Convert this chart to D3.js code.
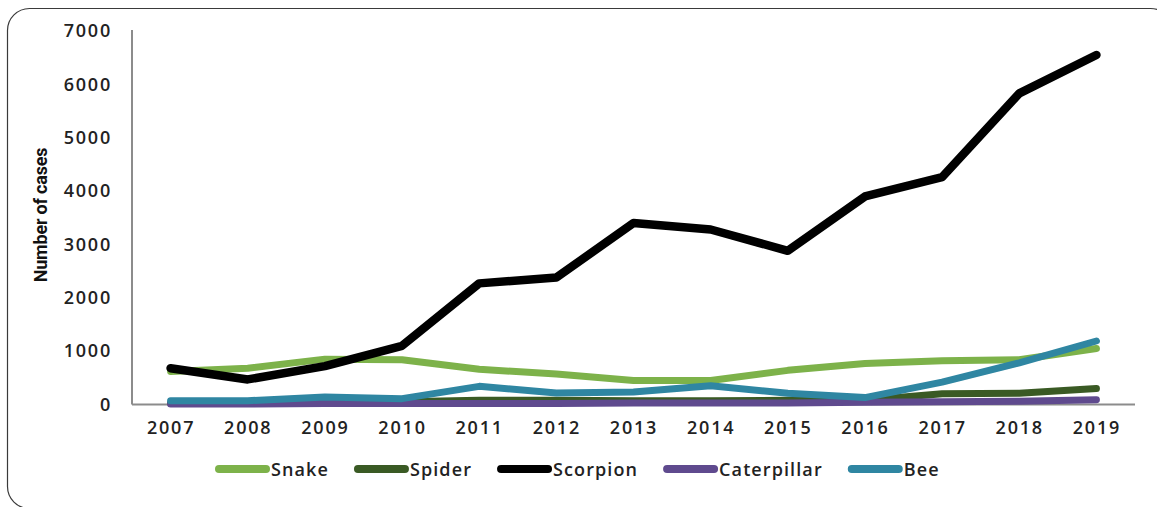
<!DOCTYPE html>
<html>
<head>
<meta charset="utf-8">
<script src="https://cdn.jsdelivr.net/npm/d3@7"></script>
<style>
  body { margin: 0; background: #fff; }
  svg { display: block; }
</style>
</head>
<body>
<div id="chart"></div>
<script>
// Data
const years = ["2007", "2008", "2009", "2010", "2011", "2012", "2013",
               "2014", "2015", "2016", "2017", "2018", "2019"];
const snake       = [620, 680, 850, 840, 660, 570, 450, 450, 640, 770, 820, 840, 1050];
const spider      = [30, 30, 40, 50, 80, 80, 70, 70, 80, 80, 200, 210, 300];
const scorpion    = [680, 470, 720, 1100, 2270, 2380, 3400, 3280, 2880, 3900, 4260, 5830, 6550];
const caterpillar = [10, 10, 20, 20, 20, 20, 30, 30, 30, 40, 50, 60, 90];
const bee         = [70, 70, 140, 110, 340, 215, 235, 350, 210, 130, 420, 780, 1190];
const yTicks = [0, 1000, 2000, 3000, 4000, 5000, 6000, 7000];

const seriesNames = ["Snake", "Spider", "Scorpion", "Caterpillar", "Bee"];
const seriesValues = [snake, spider, scorpion, caterpillar, bee];
const seriesColors = ["#7db24a", "#3a5a24", "#000000", "#5f4a8e", "#2f86a2"];
const seriesWidths = [7, 7, 8.5, 7, 7];

const W = 1157, H = 507;
const svg = d3.select("#chart").append("svg")
    .attr("width", W)
    .attr("height", H);

// rounded frame around the figure
svg.append("rect")
    .attr("x", 7.5).attr("y", 8.5)
    .attr("width", 1165).attr("height", 500)
    .attr("rx", 22).attr("ry", 22)
    .attr("fill", "none")
    .attr("stroke", "#3a3a3a")
    .attr("stroke-width", 1.2);

const plotLeft = 132, plotRight = 1135, plotTop = 31, plotBottom = 404.5;

const x = d3.scalePoint().domain(years).range([plotLeft, plotRight]).padding(0.5);
const y = d3.scaleLinear().domain([0, 7000]).range([plotBottom, plotTop]);

const font = "'Open Sans', sans-serif";

// y axis
const yAxis = svg.append("g")
    .attr("transform", `translate(${plotLeft},0)`)
    .call(d3.axisLeft(y).tickValues(yTicks).tickSize(0).tickPadding(20).tickFormat(d3.format("d")));
yAxis.select(".domain")
    .attr("d", `M0,${plotTop - 1}V${plotBottom}`)
    .attr("stroke", "#8c8c8c")
    .attr("stroke-width", 2);
yAxis.selectAll("text")
    .style("font-family", font)
    .style("font-size", "18px")
    .style("font-weight", "600")
    .style("letter-spacing", "1.8px")
    .attr("fill", "#222");

// x axis
const xAxis = svg.append("g")
    .attr("transform", `translate(0,${plotBottom})`)
    .call(d3.axisBottom(x).tickSize(0).tickPadding(17));
xAxis.select(".domain")
    .attr("d", `M${plotLeft},0H${plotRight}`)
    .attr("stroke", "#8c8c8c")
    .attr("stroke-width", 2);
xAxis.selectAll("text")
    .style("font-family", font)
    .style("font-size", "18px")
    .style("font-weight", "600")
    .style("letter-spacing", "1.8px")
    .attr("fill", "#222");

// y axis title
svg.append("text")
    .attr("transform", `translate(47, 215) rotate(-90)`)
    .attr("text-anchor", "middle")
    .style("font-family", "Roboto, sans-serif")
    .style("font-size", "18px")
    .style("font-weight", "700")
    .style("letter-spacing", "-0.2px")
    .attr("fill", "#111")
    .text("Number of cases");

// lines
const line = d3.line()
    .x((d, i) => x(years[i]))
    .y(d => y(d));

seriesValues.forEach((vals, k) => {
    svg.append("path")
        .datum(vals)
        .attr("d", line)
        .attr("fill", "none")
        .attr("stroke", seriesColors[k])
        .attr("stroke-width", seriesWidths[k])
        .attr("stroke-linejoin", "round")
        .attr("stroke-linecap", "round");
});

// legend
const legend = svg.append("g").attr("transform", "translate(0,469)");
let lx = 215;
seriesNames.forEach((name, k) => {
    legend.append("line")
        .attr("x1", lx + 4).attr("x2", lx + 51)
        .attr("y1", 0).attr("y2", 0)
        .attr("stroke", seriesColors[k])
        .attr("stroke-width", 8)
        .attr("stroke-linecap", "round");
    const t = legend.append("text")
        .attr("x", lx + 56)
        .attr("y", 6.5)
        .style("font-family", font)
        .style("font-size", "18px")
        .style("font-weight", "600")
        .style("letter-spacing", "1.1px")
        .attr("fill", "#222")
        .text(name);
    lx += 56 + t.node().getComputedTextLength() + 25;
});
</script>
</body>
</html>
